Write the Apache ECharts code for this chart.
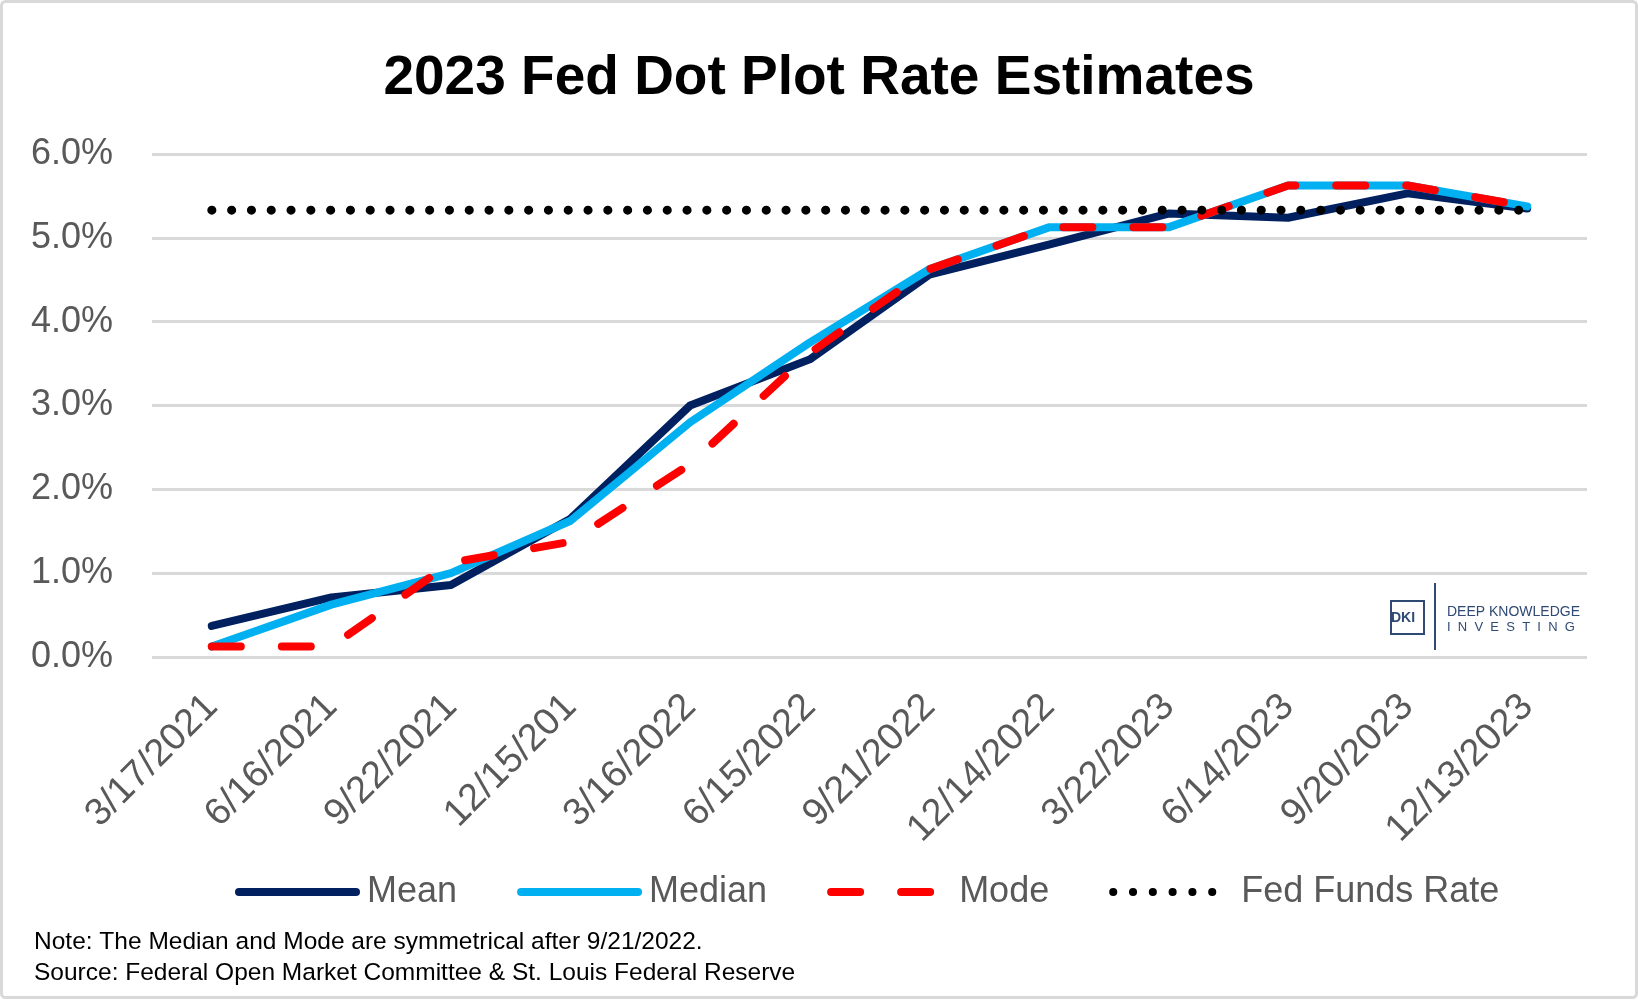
<!DOCTYPE html>
<html>
<head>
<meta charset="utf-8">
<script src="https://cdn.jsdelivr.net/npm/echarts@6/dist/echarts.min.js"></script>
<style>
html,body{margin:0;padding:0;background:#fff;}
#chart{width:1638px;height:1001px;}
</style>
</head>
<body>
<div id="chart"></div>
<script>
const categories = ['3/17/2021','6/16/2021','9/22/2021','12/15/201','3/16/2022','6/15/2022','9/21/2022','12/14/2022','3/22/2023','6/14/2023','9/20/2023','12/13/2023'];
const meanValues = [0.37, 0.71, 0.86, 1.65, 3.0, 3.55, 4.56, 4.92, 5.29, 5.24, 5.53, 5.35];
const medianValues = [0.125, 0.625, 1.0, 1.625, 2.8, 3.75, 4.625, 5.125, 5.125, 5.625, 5.625, 5.375];
const modeValues = [0.125, 0.125, 1.125, 1.375, 2.3, 3.625, 4.625, 5.125, 5.125, 5.625, 5.625, 5.375];
const fedFundsValues = [5.33, 5.33, 5.33, 5.33, 5.33, 5.33, 5.33, 5.33, 5.33, 5.33, 5.33, 5.33];
const seriesNames = ['Mean', 'Median', 'Mode', 'Fed Funds Rate'];
const titleText = '2023 Fed Dot Plot Rate Estimates';
const noteText = 'Note: The Median and Mode are symmetrical after 9/21/2022.';
const sourceText = 'Source: Federal Open Market Committee & St. Louis Federal Reserve';

const chart = echarts.init(document.getElementById('chart'));
const FONT = 'Liberation Sans';
const logoColor = '#2f4a73';

chart.setOption({
  backgroundColor: '#ffffff',
  animation: false,
  title: {
    text: titleText,
    left: 'center',
    top: 46,
    textStyle: { fontFamily: FONT, fontWeight: 'bold', fontSize: 55, color: '#000' }
  },
  legend: {
    data: seriesNames,
    left: 230,
    top: 869,
    itemWidth: 117,
    itemHeight: 14,
    itemGap: 60,
    textStyle: { fontFamily: FONT, fontSize: 36, color: '#595959', padding: [0, 0, 0, 6] },
    lineStyle: { width: 8 },
    itemStyle: { opacity: 0 }
  },
  grid: { left: 152, right: 51, top: 154, bottom: 344, containLabel: false },
  xAxis: {
    type: 'category',
    data: categories,
    boundaryGap: true,
    axisLine: { show: false },
    axisTick: { show: false },
    axisLabel: { rotate: 45, margin: 44, fontFamily: FONT, fontSize: 38, color: '#595959', interval: 0 }
  },
  yAxis: {
    type: 'value',
    min: 0, max: 6, interval: 1,
    axisLine: { show: false },
    axisTick: { show: false },
    axisLabel: { margin: 39, fontFamily: FONT, fontSize: 36, color: '#595959', formatter: v => v.toFixed(1) + '%' },
    splitLine: { lineStyle: { color: '#d9d9d9', width: 3 } }
  },
  series: [
    { name: seriesNames[0], type: 'line', data: meanValues, symbol: 'none',
      lineStyle: { color: '#002060', width: 8, cap: 'round', join: 'round' }, itemStyle: { color: '#002060' } },
    { name: seriesNames[1], type: 'line', data: medianValues, symbol: 'none',
      lineStyle: { color: '#00b0f0', width: 8, cap: 'round', join: 'round' }, itemStyle: { color: '#00b0f0' } },
    { name: seriesNames[2], type: 'line', data: modeValues, symbol: 'none',
      lineStyle: { color: '#ff0000', width: 8, type: [29, 41], cap: 'round', join: 'round' }, itemStyle: { color: '#ff0000' } },
    { name: seriesNames[3], type: 'line', data: fedFundsValues, symbol: 'none',
      lineStyle: { color: '#000000', width: 9, type: [0.1, 19.7], cap: 'round', join: 'round' }, itemStyle: { color: '#000000' } }
  ],
  graphic: [
    { type: 'rect', shape: { x: 1.5, y: 1.5, width: 1635, height: 996, r: 4 }, style: { fill: 'none', stroke: '#d9d9d9', lineWidth: 3 }, silent: true },
    { type: 'text', left: 34, top: 930, style: { text: noteText, font: '24.5px "Liberation Sans"', fill: '#000' } },
    { type: 'text', left: 34, top: 961, style: { text: sourceText, font: '24.5px "Liberation Sans"', fill: '#000' } },
    // logo
    { type: 'rect', shape: { x: 1391, y: 601, width: 33, height: 33 }, style: { fill: 'none', stroke: logoColor, lineWidth: 2 } },
    { type: 'text', x: 1403, y: 618, style: { text: 'DKI', font: 'bold 14px "Liberation Sans"', fill: logoColor, align: 'center', verticalAlign: 'middle' } },
    { type: 'line', shape: { x1: 1435, y1: 583, x2: 1435, y2: 650 }, style: { stroke: logoColor, lineWidth: 2 } },
    { type: 'text', x: 1447, y: 612, style: { text: 'DEEP KNOWLEDGE', font: '14px "Liberation Sans"', fill: logoColor, verticalAlign: 'middle' } },
    { type: 'text', x: 1447, y: 627, style: { text: 'I  N  V  E  S  T  I  N  G', font: '13px "Liberation Sans"', fill: logoColor, verticalAlign: 'middle' } }
  ]
});
</script>
</body>
</html>
